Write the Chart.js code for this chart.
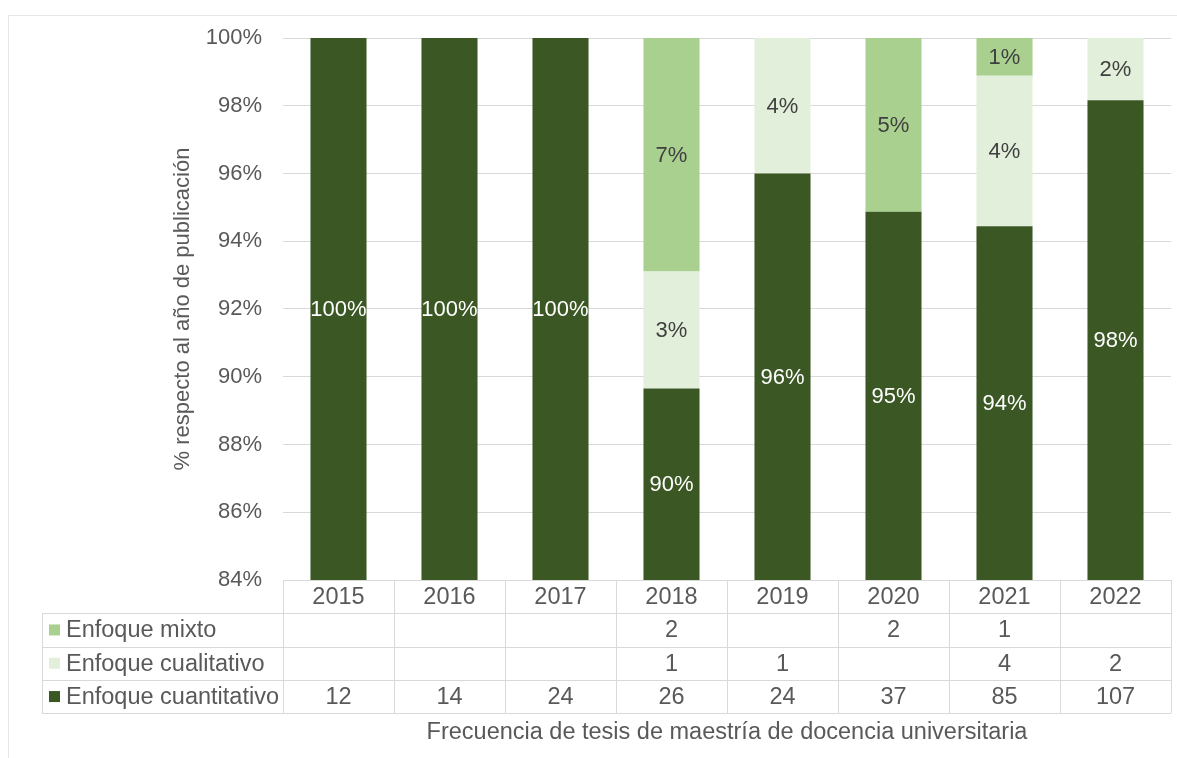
<!DOCTYPE html>
<html>
<head>
<meta charset="utf-8">
<script src="https://cdn.jsdelivr.net/npm/chart.js@4"></script>
<style>
  body { margin: 0; background: #fff; }
  #wrap { position: relative; width: 1177px; height: 758px; }
</style>
</head>
<body>
<div id="wrap"><canvas id="chart" width="1177" height="758"></canvas></div>
<script>
// counts per year
var years = ['2015', '2016', '2017', '2018', '2019', '2020', '2021', '2022'];
var mixto = [0, 0, 0, 2, 0, 2, 1, 0];
var cualitativo = [0, 0, 0, 1, 1, 0, 4, 2];
var cuantitativo = [12, 14, 24, 26, 24, 37, 85, 107];
var yTicks = [0.84, 0.86, 0.88, 0.90, 0.92, 0.94, 0.96, 0.98, 1.00];

var seriesNames = ['Enfoque mixto', 'Enfoque cualitativo', 'Enfoque cuantitativo'];
var colors = { cuant: '#3b5724', cual: '#e2efda', mixto: '#a9d08e' };
var textGray = '#595959';
var lineGray = '#d9d9d9';
var fontFamily = '"Liberation Sans", Arial, sans-serif';

// share of each year's total
var share = function(arr) {
  return arr.map(function(v, i) {
    var total = mixto[i] + cualitativo[i] + cuantitativo[i];
    return v / total;
  });
};

var tablePlugin = {
  id: 'tablePlugin',
  afterDatasetsDraw: function(chart) {
    var ctx = chart.ctx;
    var area = chart.chartArea;
    ctx.save();
    ctx.font = '22px ' + fontFamily;
    ctx.textAlign = 'center';
    ctx.textBaseline = 'middle';
    chart.data.datasets.forEach(function(ds, di) {
      var meta = chart.getDatasetMeta(di);
      meta.data.forEach(function(el, i) {
        var v = ds.data[i];
        if (!v) return;
        var p = el.getProps(['x', 'y', 'base'], true);
        var top = Math.max(Math.min(p.y, p.base), area.top);
        var bottom = Math.min(Math.max(p.y, p.base), area.bottom);
        if (bottom - top < 2) return;
        ctx.fillStyle = ds.labelColor;
        ctx.fillText(Math.round(v * 100) + '%', p.x, (top + bottom) / 2 + 1);
      });
    });
    ctx.restore();
  },
  afterDraw: function(chart) {
    var ctx = chart.ctx;
    var area = chart.chartArea;
    var xScale = chart.scales.x;
    var colW = area.width / years.length;
    var rowH = 33.3;
    var tableLeft = 42;
    var rows = [mixto, cualitativo, cuantitativo];
    var keyColors = [colors.mixto, colors.cual, colors.cuant];

    ctx.save();
    // faint outer frame
    ctx.strokeStyle = '#e6e6e6';
    ctx.lineWidth = 1;
    ctx.beginPath();
    ctx.moveTo(8.5, 760);
    ctx.lineTo(8.5, 15.5);
    ctx.lineTo(1177, 15.5);
    ctx.stroke();

    // table grid
    ctx.strokeStyle = lineGray;
    ctx.beginPath();
    ctx.moveTo(area.left, Math.round(area.bottom) + 0.5);
    ctx.lineTo(area.right, Math.round(area.bottom) + 0.5);
    for (var r = 1; r <= 4; r++) {
      var ly = Math.round(area.bottom + r * rowH) + 0.5;
      ctx.moveTo(tableLeft, ly);
      ctx.lineTo(area.right, ly);
    }
    for (var c = 0; c <= years.length; c++) {
      var lx = Math.round(area.left + c * colW) + 0.5;
      ctx.moveTo(lx, area.bottom);
      ctx.lineTo(lx, area.bottom + 4 * rowH);
    }
    ctx.moveTo(tableLeft + 0.5, area.bottom + rowH);
    ctx.lineTo(tableLeft + 0.5, area.bottom + 4 * rowH);
    ctx.stroke();

    ctx.font = '23.5px ' + fontFamily;
    ctx.fillStyle = textGray;
    ctx.textBaseline = 'middle';
    ctx.textAlign = 'center';
    years.forEach(function(y, i) {
      ctx.fillText(y, xScale.getPixelForValue(i), area.bottom + rowH / 2 + 1);
    });
    rows.forEach(function(arr, r) {
      var cy = area.bottom + (r + 1.5) * rowH + 1;
      ctx.textAlign = 'center';
      ctx.fillStyle = textGray;
      arr.forEach(function(v, i) {
        if (v) ctx.fillText(String(v), xScale.getPixelForValue(i), cy);
      });
      ctx.fillStyle = keyColors[r];
      ctx.fillRect(49, cy - 6.5, 11, 11);
      ctx.fillStyle = textGray;
      ctx.textAlign = 'left';
      ctx.fillText(seriesNames[r], 66, cy);
    });

    // x axis title
    ctx.textAlign = 'center';
    ctx.fillText('Frecuencia de tesis de maestría de docencia universitaria',
      (area.left + area.right) / 2, 733);
    ctx.restore();
  }
};

new Chart(document.getElementById('chart'), {
  type: 'bar',
  data: {
    labels: years,
    datasets: [{
      label: 'Enfoque cuantitativo',
      data: share(cuantitativo),
      backgroundColor: colors.cuant,
      labelColor: '#ffffff'
    }, {
      label: 'Enfoque cualitativo',
      data: share(cualitativo),
      backgroundColor: colors.cual,
      labelColor: '#404040'
    }, {
      label: 'Enfoque mixto',
      data: share(mixto),
      backgroundColor: colors.mixto,
      labelColor: '#404040'
    }]
  },
  options: {
    responsive: false,
    devicePixelRatio: 1,
    animation: false,
    categoryPercentage: 1,
    barPercentage: 0.505,
    layout: {
      padding: { left: 166, top: 38, right: 6, bottom: 178 }
    },
    plugins: {
      legend: { display: false },
      tooltip: { enabled: false }
    },
    scales: {
      x: {
        stacked: true,
        grid: { display: false },
        border: { display: false },
        ticks: { display: false },
        afterFit: function(scale) { scale.height = 0; }
      },
      y: {
        stacked: true,
        min: yTicks[0],
        max: yTicks[yTicks.length - 1],
        afterBuildTicks: function(scale) {
          scale.ticks = yTicks.map(function(v) { return { value: v }; });
        },
        afterFit: function(scale) { scale.width = 117; },
        grid: { color: lineGray, drawTicks: false },
        border: { display: false },
        ticks: {
          padding: 21,
          color: textGray,
          font: { family: fontFamily, size: 22 },
          callback: function(v) { return Math.round(v * 100) + '%'; }
        },
        title: {
          display: true,
          text: '% respecto al año de publicación',
          color: textGray,
          font: { family: fontFamily, size: 22 }
        }
      }
    }
  },
  plugins: [tablePlugin]
});
</script>
</body>
</html>
